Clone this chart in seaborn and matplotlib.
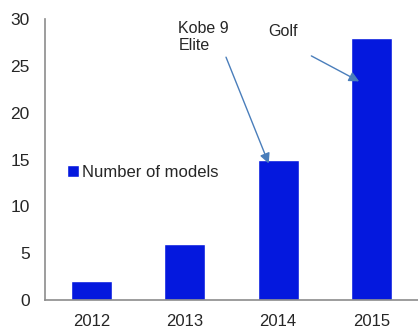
import numpy as np
import pandas as pd
import matplotlib
matplotlib.use('Agg')
import matplotlib.pyplot as plt
import seaborn as sns

# --- DATA ---
years = ['2012', '2013', '2014', '2015']
models = [2, 6, 15, 28]

BAR_COLOR = '#0418de'
ARROW_COLOR = '#4a7ebb'
SPINE_COLOR = '#8c8c8c'

sns.set_style('white')
plt.rcParams['font.family'] = ['Liberation Sans', 'DejaVu Sans']

df = pd.DataFrame({'Year': years, 'Models': models})

fig = plt.figure(figsize=(4.18, 3.29), dpi=100)
ax = fig.add_axes([45 / 418, 29 / 329, 373 / 418, 281 / 329])

sns.barplot(data=df, x='Year', y='Models', color=BAR_COLOR, width=0.44,
            saturation=1, ax=ax, label='Number of models')

ax.set_ylim(0, 30)
ax.set_xlim(-0.5, 373 / 95.5 - 0.5)
ax.set_yticks(range(0, 31, 5))
ax.set_xlabel('')
ax.set_ylabel('')

# x ticks sit between categories, labels at the centres
ax.set_xticks(np.arange(-0.5, 3.6, 1.0))
ax.set_xticklabels([])
ax.set_xticks(range(len(years)), minor=True)
ax.set_xticklabels(years, minor=True)
ax.tick_params(axis='x', which='minor', length=0, pad=10, labelsize=12)
ax.tick_params(axis='x', which='major', length=5, direction='out',
               color=SPINE_COLOR, width=1)
ax.tick_params(axis='y', length=5, direction='out', color=SPINE_COLOR,
               width=1, labelsize=12.5, pad=6)

for side in ['top', 'right']:
    ax.spines[side].set_visible(False)
for side in ['left', 'bottom']:
    ax.spines[side].set_color(SPINE_COLOR)
    ax.spines[side].set_linewidth(1.2)

# legend
ax.legend(loc='center left', bbox_to_anchor=(0.02, 0.455), frameon=False,
          handlelength=0.7, handleheight=0.7, handletextpad=0.2,
          fontsize=12)

# annotations
ax.text(0.93, 29.8, 'Kobe 9\nElite', fontsize=11.5, va='top', ha='left',
        linespacing=1.2)
ax.annotate('', xy=(1.91, 14.3), xytext=(1.43, 26.2),
            arrowprops=dict(arrowstyle='-|>', color=ARROW_COLOR, lw=1,
                            mutation_scale=15))
ax.text(1.89, 29.5, 'Golf', fontsize=11.5, va='top', ha='left')
ax.annotate('', xy=(2.895, 23.2), xytext=(2.33, 26.2),
            arrowprops=dict(arrowstyle='-|>', color=ARROW_COLOR, lw=1,
                            mutation_scale=15))

fig.savefig('out.png', dpi=100)
